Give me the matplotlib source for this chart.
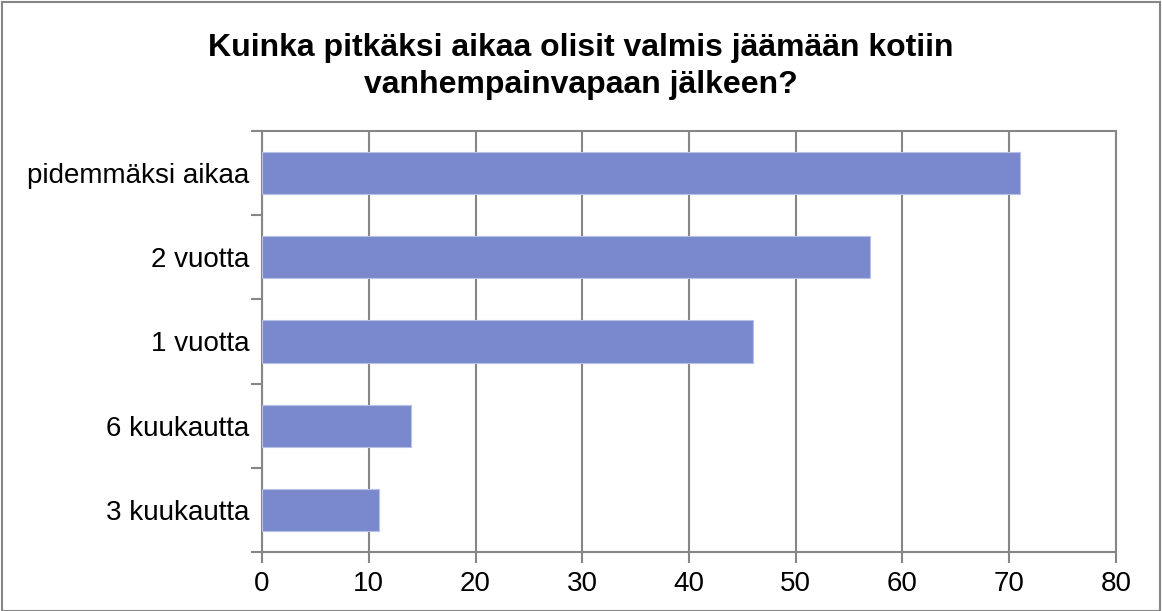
import numpy as np
import matplotlib
matplotlib.use("Agg")
import matplotlib.pyplot as plt
from matplotlib.patches import Rectangle

plt.rcParams['font.family'] = ['Liberation Sans', 'DejaVu Sans']

categories = ["3 kuukautta", "6 kuukautta", "1 vuotta", "2 vuotta", "pidemmäksi aikaa"]
values = [11, 14, 46, 57, 71]
xticks = [0, 10, 20, 30, 40, 50, 60, 70, 80]

bar_color = "#7A89CD"
grid_color = "#868686"

fig = plt.figure(figsize=(11.62, 6.11), dpi=100)
ax = fig.add_axes([0.2255, 0.0966, 0.7349, 0.689])

y = np.arange(len(categories))
ax.barh(y, values, height=0.5, color=bar_color, edgecolor="#B8C0E6", linewidth=0.8, zorder=3)

ax.set_xlim(0, 80)
ax.set_ylim(-0.5, len(categories) - 0.5)
ax.set_xticks(xticks)
ax.set_xticklabels([str(v) for v in xticks], fontsize=20)
ax.set_yticks(y)
ax.set_yticklabels(categories, fontsize=20)
ax.set_yticks(np.arange(-0.5, len(categories), 1.0), minor=True)
ax.tick_params(axis='y', which='major', length=0, pad=9)
ax.tick_params(axis='y', which='minor', length=8, width=1.5, color=grid_color)
ax.tick_params(axis='x', length=8, width=1.5, color=grid_color, pad=6)

ax.grid(axis='x', color=grid_color, linewidth=1.5, zorder=0)
for s in ax.spines.values():
    s.set_color(grid_color)
    s.set_linewidth(1.5)

fig.suptitle("Kuinka pitkäksi aikaa olisit valmis jäämään kotiin\nvanhempainvapaan jälkeen?",
             fontsize=23, fontweight='bold', y=(611 - 33) / 611, va='top', linespacing=1.3)

fig.patches.append(Rectangle((0.002, 0.0), 0.996, 0.997, transform=fig.transFigure,
                             fill=False, edgecolor=grid_color, linewidth=1.5))

fig.savefig("out.png", dpi=100)
